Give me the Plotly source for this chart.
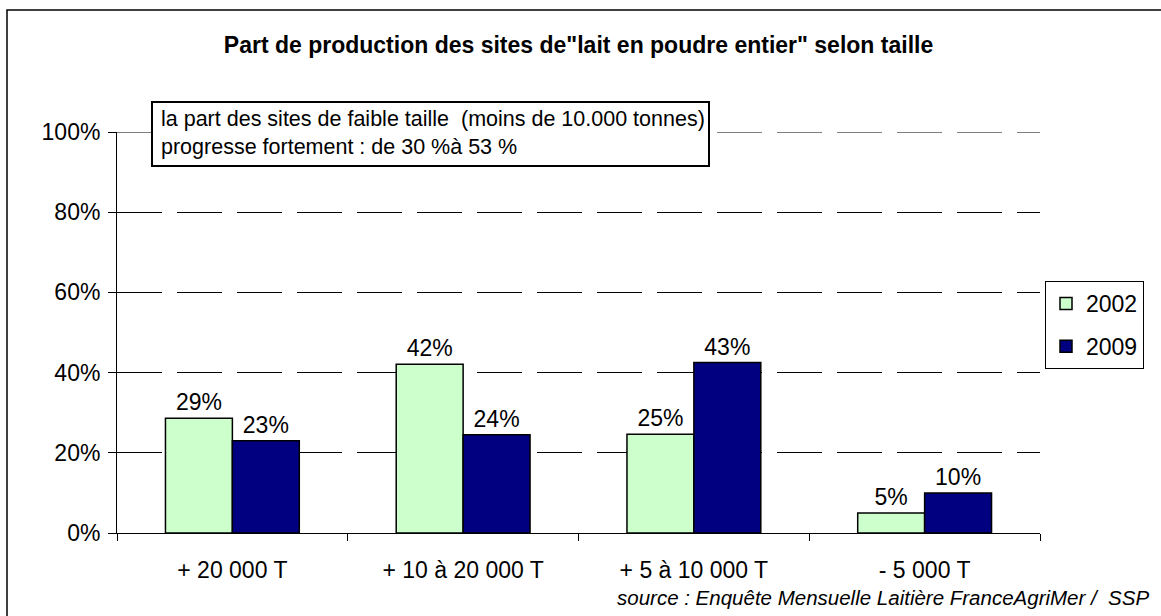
import plotly.graph_objects as go

categories = ["+ 20 000 T", "+ 10 à 20 000 T", "+ 5 à 10 000 T", "- 5 000 T"]
values_2002 = [28.6, 42.1, 24.6, 5.0]
values_2009 = [23.0, 24.5, 42.5, 10.0]
labels_2002 = ["29%", "42%", "25%", "5%"]
labels_2009 = ["23%", "24%", "43%", "10%"]
y_ticks = [0, 20, 40, 60, 80, 100]
y_tick_text = ["0%", "20%", "40%", "60%", "80%", "100%"]

FONT = "Liberation Sans, Arial, sans-serif"

fig = go.Figure()
fig.add_trace(go.Bar(
    name="2002", x=categories, y=values_2002, text=labels_2002,
    textposition="outside", cliponaxis=False, legendgroup="a",
    textfont=dict(size=23, color="black", family=FONT),
    marker=dict(color="#CCFFCC", line=dict(color="black", width=1.5)),
))
fig.add_trace(go.Bar(
    name="2009", x=categories, y=values_2009, text=labels_2009,
    textposition="outside", cliponaxis=False, legendgroup="b",
    textfont=dict(size=23, color="black", family=FONT),
    marker=dict(color="#000080", line=dict(color="black", width=1.5)),
))

W, H = 1161, 616
L, R, T, B = 117, 1040, 132, 533
pw, ph = R - L, B - T

def px(x):
    return (x - L) / pw

def py(y):
    return (B - y) / ph

fig.update_layout(
    width=W, height=H,
    margin=dict(l=L, r=W - R, t=T, b=H - B, pad=0),
    paper_bgcolor="white", plot_bgcolor="white",
    font=dict(family=FONT, size=23, color="black"),
    barmode="group", bargap=0.42, bargroupgap=0,
    title=dict(
        text="<b>Part de production des sites de\"lait en poudre entier\" selon taille</b>",
        x=0.5, xref="paper", xanchor="center",
        y=1 - 45 / H, yref="container", yanchor="middle",
        font=dict(size=23, family=FONT, color="black"),
    ),
    xaxis=dict(
        showline=True, linecolor="black", linewidth=1,
        ticks="outside", ticklen=7, tickcolor="black", tickson="boundaries",
        showgrid=False, tickfont=dict(size=23), fixedrange=True,
        ticklabelstandoff=16,
    ),
    yaxis=dict(
        range=[0, 100], tickvals=y_ticks, ticktext=y_tick_text,
        showline=True, linecolor="black", linewidth=1,
        ticks="outside", ticklen=8, tickcolor="black",
        showgrid=True, gridcolor="black", gridwidth=1, griddash="45px,15px",
        zeroline=False, tickfont=dict(size=23), ticklabelstandoff=3,
    ),
    legend=dict(
        x=px(1045), y=py(281), xanchor="left", yanchor="top",
        bordercolor="black", borderwidth=1, bgcolor="white",
        font=dict(size=23, family=FONT), tracegroupgap=10,
        itemwidth=30,
    ),
    showlegend=True,
)

shapes = [
    dict(type="rect", xref="paper", yref="paper",
         x0=px(7), x1=px(1175), y0=py(630), y1=py(10),
         line=dict(color="black", width=1.5), fillcolor="rgba(0,0,0,0)", layer="below"),
    # top (100%) gridline, which plotly omits at the range edge
    dict(type="line", xref="paper", yref="y", x0=0, x1=1, y0=100, y1=100,
         line=dict(color="black", width=1, dash="45px,15px"), layer="below"),
    dict(type="rect", xref="paper", yref="paper",
         x0=px(152), x1=px(709), y0=py(166), y1=py(102),
         line=dict(color="black", width=2), fillcolor="white", layer="above"),
]
fig.update_layout(shapes=shapes)

fig.add_annotation(
    text="la part des sites de faible taille  (moins de 10.000 tonnes)",
    xref="paper", yref="paper", x=px(159), y=py(119),
    xanchor="left", yanchor="middle", showarrow=False,
    font=dict(size=21.5, family=FONT, color="black"),
)
fig.add_annotation(
    text="progresse fortement : de 30 %à 53 %",
    xref="paper", yref="paper", x=px(159), y=py(147),
    xanchor="left", yanchor="middle", showarrow=False,
    font=dict(size=21.5, family=FONT, color="black"),
)
fig.add_annotation(
    text="<i>source : Enquête Mensuelle Laitière FranceAgriMer /  SSP</i>",
    xref="paper", yref="paper", x=px(1151), y=py(597),
    xanchor="right", yanchor="middle", showarrow=False,
    font=dict(size=20.5, family=FONT, color="black"),
)

fig.write_html("out.html", config={"displayModeBar": False},
               post_script="document.body.style.margin='0px';")
